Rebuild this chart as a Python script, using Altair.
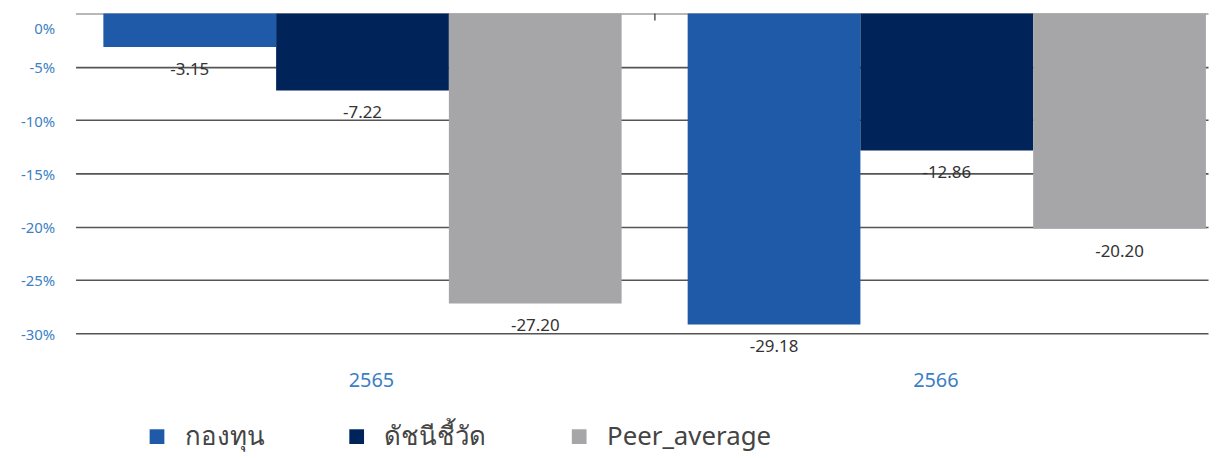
import altair as alt
import pandas as pd

years = ["2565", "2566"]
series = ["กองทุน", "ดัชนีชี้วัด", "Peer_average"]
fund = [-3.15, -29.18]
index_vals = [-7.22, -12.86]
peer = [-27.20, -20.20]
colors = ["#1f5aa8", "#002359", "#a6a6a8"]
y_ticks = [0, -5, -10, -15, -20, -25, -30]

rows = []
for i, yr in enumerate(years):
    for s, vals in zip(series, [fund, index_vals, peer]):
        rows.append({"year": yr, "series": s, "value": vals[i], "label": f"{vals[i]:.2f}"})
df = pd.DataFrame(rows)
tick_df = pd.DataFrame({"year": [years[-1]]})

xscale = alt.Scale(domain=years, paddingInner=0.113, paddingOuter=0.0256, align=0.93)
yscale = alt.Scale(domain=[-30, 0], nice=False)

x_enc = alt.X(
    "year:N", scale=xscale, title=None,
    axis=alt.Axis(labelAngle=0, labelColor="#3b7fc4", labelFontSize=20,
                  labelPadding=38, ticks=False, domain=False, grid=False,
                  labelFont="Noto Sans",
                  labelOffset=alt.condition("datum.value == '2565'", alt.value(9), alt.value(-11))),
)
y_enc = alt.Y(
    "value:Q", scale=yscale, title=None,
    axis=alt.Axis(values=y_ticks, labelExpr="datum.value + '%'",
                  labelColor="#3b7fc4", labelFontSize=15, labelPadding=21,
                  labelFont="Noto Sans",
                  labelOffset=alt.condition("datum.value == 0", alt.value(15), alt.value(1)),
                  ticks=False, domain=False, grid=True,
                  gridColor=alt.condition("datum.value == 0", alt.value("#a0a0a0"), alt.value("#555555")),
                  gridWidth=1.6),
)
xoff = alt.XOffset("series:N", sort=series, scale=alt.Scale(domain=series, paddingInner=0, paddingOuter=0))

base = alt.Chart(df).encode(x=x_enc, xOffset=xoff, y=y_enc)

bars = base.mark_bar().encode(
    color=alt.Color(
        "series:N", sort=series,
        scale=alt.Scale(domain=series, range=colors),
        legend=alt.Legend(
            title=None, orient="none", direction="horizontal",
            legendX=69, legendY=413, symbolType="square", symbolSize=220,
            symbolStrokeWidth=0, labelFontSize=26, labelColor="#444444",
            labelFont="Noto Sans", labelOffset=15, columnPadding=80,
            labelLimit=0,
        ),
    )
)

labels = base.mark_text(dy=23, fontSize=17, color="#333333", font="Noto Sans").encode(
    text=alt.Text("label:N")
)

tick_left = alt.Chart(tick_df).mark_rule(color="#555555", strokeWidth=1.5, xOffset=-33).encode(
    x=alt.X("year:N", scale=xscale, bandPosition=0),
    y=alt.value(0), y2=alt.value(7),
)
tick_right = alt.Chart(tick_df).mark_rule(color="#555555", strokeWidth=1.5, xOffset=7).encode(
    x=alt.X("year:N", scale=xscale, bandPosition=1),
    y=alt.value(0), y2=alt.value(7),
)

chart = alt.layer(bars, labels, tick_left, tick_right).properties(
    width=1140, height=322,
    autosize=alt.AutoSizeParams(type="none"),
    padding={"left": 68, "top": 4, "right": 2, "bottom": 124},
).configure_view(stroke=None)

chart.save("out.html", embed_options={"renderer": "svg", "actions": False})
